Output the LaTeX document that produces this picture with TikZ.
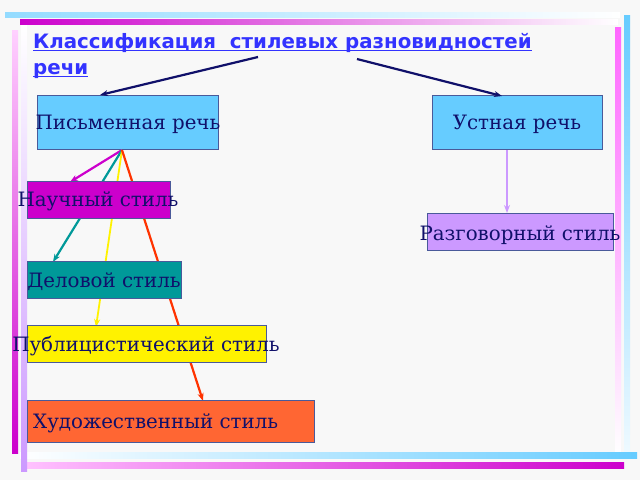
\documentclass[tikz,border=0pt]{standalone}
\usepackage{fontspec}
\setmainfont{DejaVu Serif}
\newfontfamily\titlefont{DejaVu Sans}
\usetikzlibrary{arrows.meta}
\definecolor{bg}{HTML}{F8F8F8}
\definecolor{navy}{HTML}{10106A}
\definecolor{cyanb}{HTML}{66CCFF}
\definecolor{magb}{HTML}{CC00CC}
\definecolor{lilb}{HTML}{CC99FF}
\definecolor{tealb}{HTML}{009999}
\definecolor{orb}{HTML}{FF6633}
\definecolor{redo}{HTML}{FF3300}
\definecolor{ttl}{HTML}{3333FF}
\definecolor{edge}{HTML}{4A5A9A}
\definecolor{pinkl}{HTML}{FF66FF}
\tikzset{
 box/.style={draw=edge,line width=1.2pt,inner sep=0pt,anchor=north west},
 lbl/.style={text=navy,font=\fontsize{19.8}{22}\selectfont,inner sep=0pt},
 arr/.style={-{Stealth[length=8pt,width=6pt]},line width=2.2pt},
}
\newcommand{\ttlul}[1]{\setbox0\hbox{#1}\rlap{\rule[-3pt]{\wd0}{1.4pt}}\box0}
\begin{document}
\begin{tikzpicture}[x=1pt,y=-1pt]
\fill[bg] (0,0) rectangle (640,480);
\useasboundingbox (0,0) rectangle (640,480);
% frame
\shade[left color=cyanb!70,right color=white] (5,12) rectangle (620,17);
\shade[left color=magb,right color=white] (20,19) rectangle (618,24);
\shade[top color=cyanb,bottom color=white!90!cyanb] (624,15) rectangle (630,458);
\shade[top color=pinkl,bottom color=white] (615,27) rectangle (621,455);
\shade[left color=white,right color=cyanb] (20,452) rectangle (637,458);
\shade[left color=white!60!pinkl,right color=magb] (25,462) rectangle (624,468);
\shade[top color=white!70!pinkl,bottom color=magb] (12,30) rectangle (18,453);
\shade[top color=white,bottom color=lilb] (21,25) rectangle (27,471);
% title
\node[anchor=north west,text=ttl,font=\titlefont\bfseries\fontsize{19.8}{26}\selectfont,align=left,inner sep=0pt] (title) at (33,33)
 {\ttlul{Классификация \ стилевых разновидностей}\\\ttlul{речи}};
\coordinate (tl) at (258,57);
\coordinate (tr) at (357,59);
% boxes
\node[box,fill=cyanb,minimum width=181,minimum height=54] (pis) at (37,95) {};
\node[box,fill=cyanb,minimum width=170,minimum height=54] (ust) at (432,95) {};
\node[box,fill=lilb,minimum width=186,minimum height=37] (raz) at (427,213) {};
\coordinate (src) at (122,150);
% arrows from pis (behind boxes)
\draw[arr,magb] (src) -- (70,182);
\draw[arr,tealb] (src) -- (53,262);
\draw[arr,yellow,line width=1.8pt] (src) -- (96,327);
\draw[arr,redo] (src) -- (203,401);
\draw[arr,navy] (tl) -- (pis.north west -| 100,0);
\draw[arr,navy] (tr) -- (502,96);
\draw[arr,lilb] (ust.south -| 507,0) -- (507,213);
\node[box,fill=magb,minimum width=143,minimum height=37] (nau) at (27,181) {};
\node[box,fill=tealb,minimum width=154,minimum height=37] (del) at (27,261) {};
\node[box,fill=yellow,minimum width=239,minimum height=37] (pub) at (27,325) {};
\node[box,fill=orb,minimum width=287,minimum height=42] (hud) at (27,400) {};
% labels
\node[lbl] (tpis) at (128,124) {Письменная речь};
\node[lbl] (tust) at (517,124) {Устная речь};
\node[lbl] (tnau) at (98,201) {Научный стиль};
\node[lbl] (traz) at (520,235) {Разговорный стиль};
\node[lbl] (tdel) at (104,282) {Деловой стиль};
\node[lbl] (tpub) at (146,346) {Публицистический стиль};
\node[lbl,anchor=west] (thud) at (33,423) {Художественный стиль};
\end{tikzpicture}
\end{document}
